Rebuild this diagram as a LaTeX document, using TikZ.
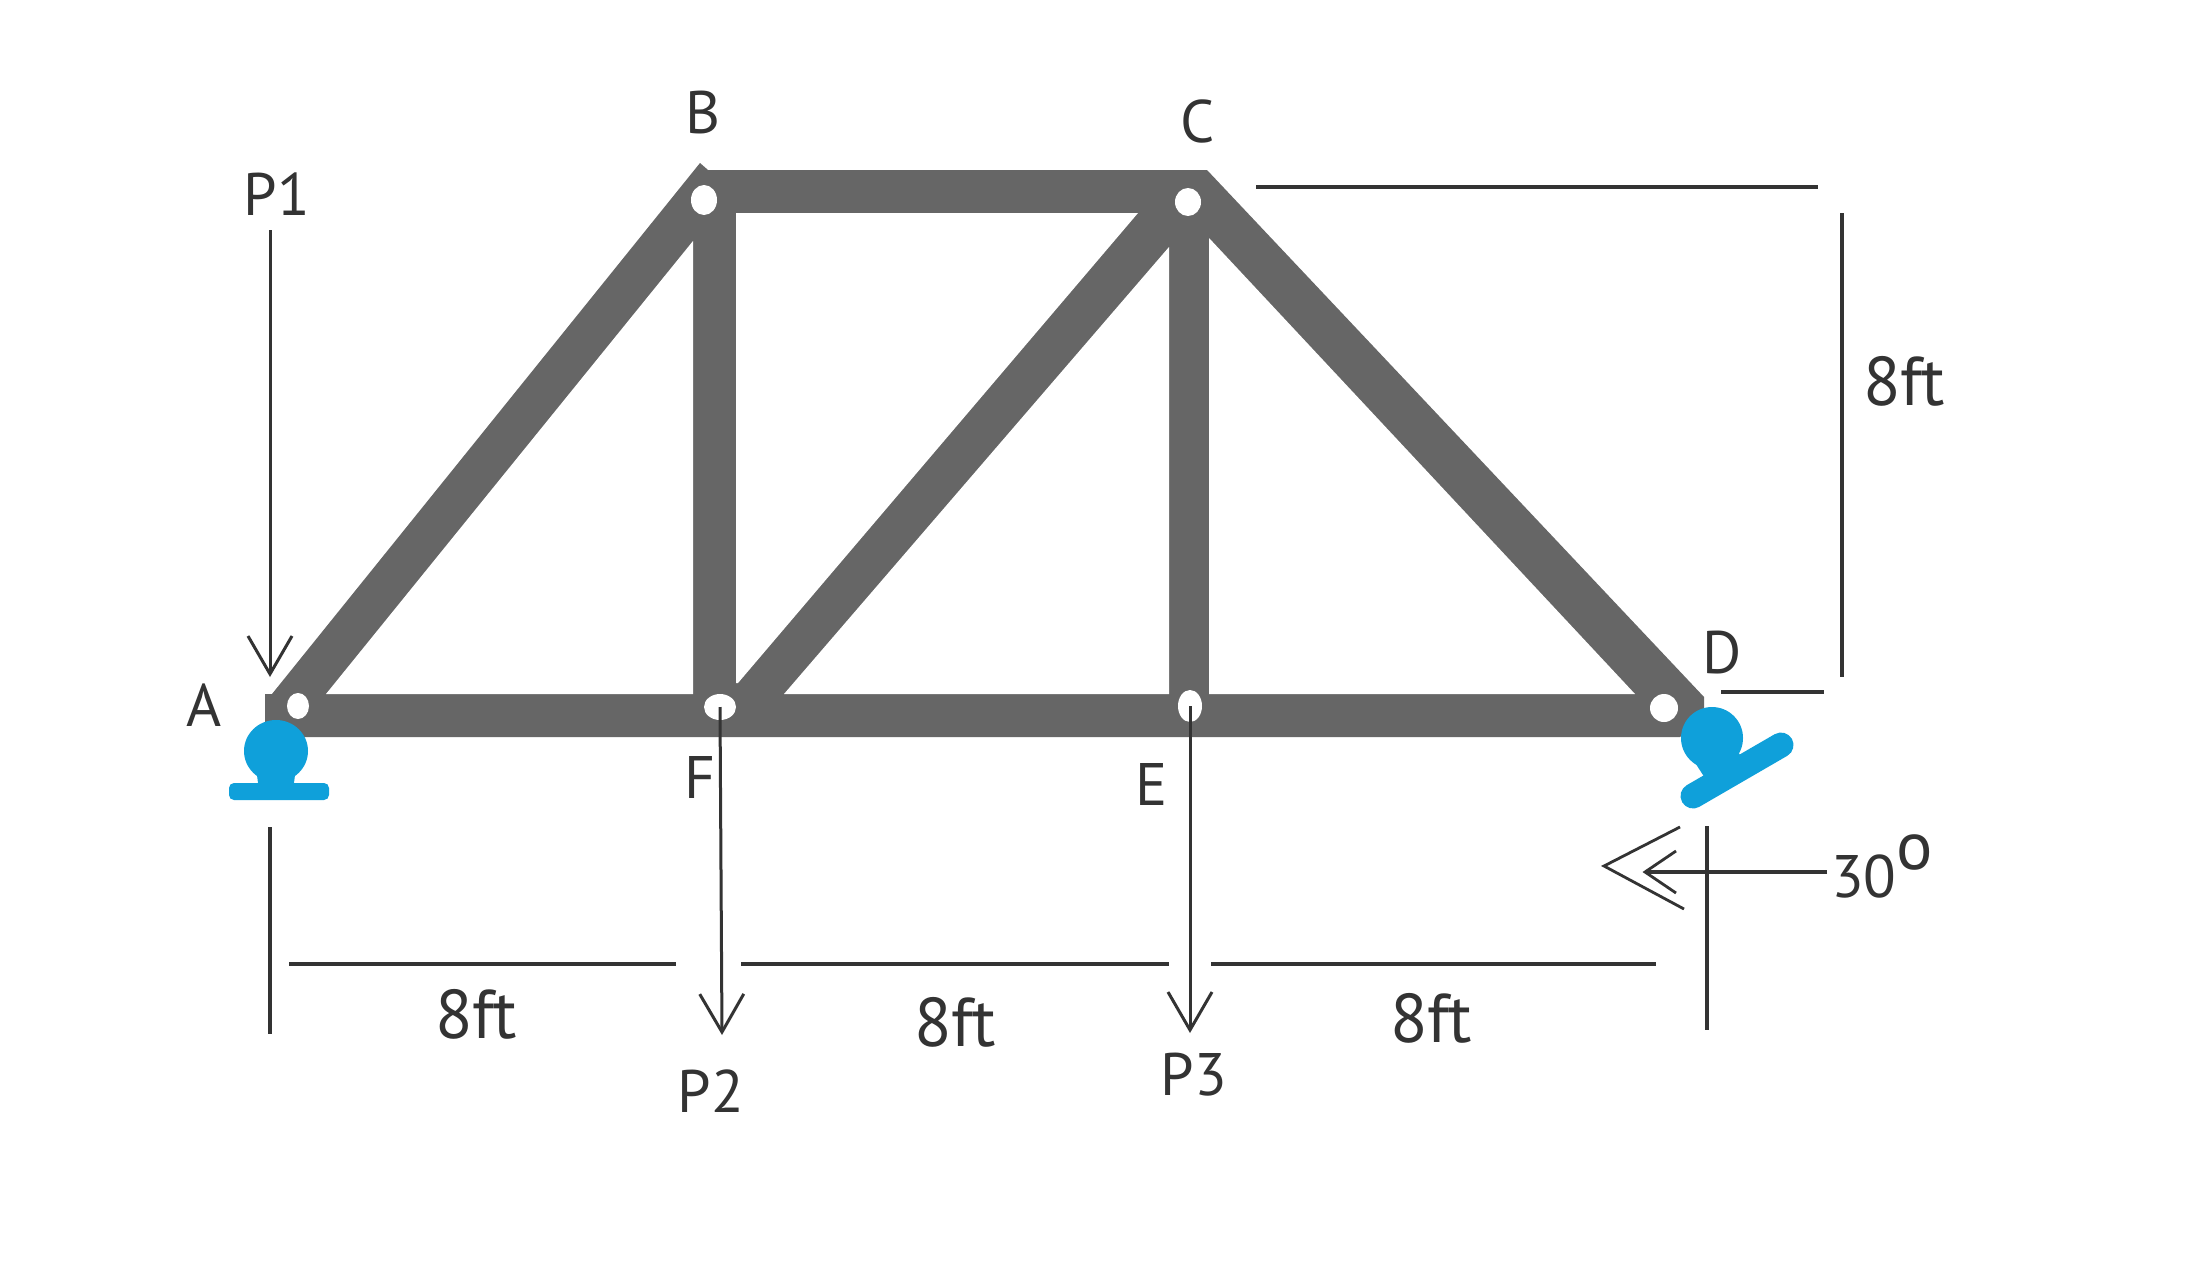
\documentclass[tikz,border=0pt]{standalone}
\usepackage{fontspec}
\setmainfont[Numbers=Lining]{PT Sans}
\usetikzlibrary{arrows.meta,shapes.geometric}
\definecolor{truss}{HTML}{666666}
\definecolor{support}{HTML}{0FA0DA}
\definecolor{ink}{HTML}{333333}
\tikzset{
  member/.style={fill=truss,draw=none},
  pin/.style={ellipse,fill=white,draw=none,inner sep=0pt},
  sup/.style={fill=support,draw=none},
  lab/.style={anchor=base,text=ink,inner sep=0pt,font=\fontsize{60}{60}\selectfont},
  dimlab/.style={anchor=base,text=ink,inner sep=0pt,font=\fontsize{69}{69}\selectfont},
  dimline/.style={draw=ink,line width=3.2pt},
  load/.style={draw=ink,line width=3pt,-{Straight Barb[length=38pt,width=44pt,line width=3pt]}},
}
\begin{document}
\begin{tikzpicture}[x=1pt,y=-1pt]
\useasboundingbox (0,0) rectangle (2187,1263);
\fill[white] (0,0) rectangle (2187,1263);
% truss members
\fill[member] (265,737) -- (265,694) -- (272,694) -- (700,163) -- (708,170) -- (1207,170) -- (1704,697) -- (1704,720) -- (1680,737) -- cycle;
% openings
\fill[white] (326,694) -- (693,241) -- (693,694) -- cycle;
\fill[white] (736,213) -- (1138,213) -- (738,683) -- (736,683) -- cycle;
\fill[white] (784,694) -- (1169,247) -- (1169,694) -- cycle;
\fill[white] (1209,238) -- (1635,694) -- (1209,694) -- cycle;
% pins
\node[pin,minimum width=22pt,minimum height=26pt] (pa) at (298,706) {};
\node[pin,minimum width=26pt,minimum height=30pt] (pb) at (704,200) {};
\node[pin,minimum width=26pt,minimum height=28pt] (pc) at (1188,202) {};
\node[pin,minimum width=28pt,minimum height=28pt] (pd) at (1664,708) {};
\node[pin,minimum width=24pt,minimum height=32pt] (pe) at (1190,706) {};
\node[pin,minimum width=32pt,minimum height=26pt] (pf) at (720,707) {};
% support A
\fill[sup] (276,751) ellipse (32 and 31);
\fill[sup] (256,768) -- (296,768) -- (293,790) -- (259,790) -- cycle;
\fill[sup,rounded corners=5pt] (229,783) rectangle (329,800);
% support D
\fill[sup] (1712,738) circle (31);
\fill[sup] (1692,758) -- (1734,745) -- (1752,775) -- (1714,792) -- cycle;
\draw[support,line width=25pt,line cap=round] (1693,796) -- (1781,745);
% labels
\node[lab] (la) at (204,726) {A};
\node[lab] (lb) at (703,133) {B};
\node[lab] (lc) at (1198,142) {C};
\node[lab] (ld) at (1722,673) {D};
\node[lab] (le) at (1152,805) {E};
\node[lab] (lf) at (700,798) {F};
\node[lab] (p1) at (277,215) {P1};
\node[lab] (p2) at (711,1112) {P2};
\node[lab] (p3) at (1194,1095) {P3};
\node[dimlab] (d1) at (476,1038) {8ft};
\node[dimlab] (d2) at (955,1046) {8ft};
\node[dimlab] (d3) at (1431,1042) {8ft};
\node[dimlab] (d4) at (1904,405) {8ft};
\node[lab,anchor=base west] (ang) at (1831,897) {30\raisebox{28pt}{\fontsize{68}{68}\selectfont o}};
% loads
\coordinate (p1s) at (270,230);
\coordinate (p1e) at (270,677);
\coordinate (p2e) at (722,1035);
\coordinate (p3e) at (1190,1033);
\draw[load] (p1s) -- (p1e);
\draw[load] (pf.center) -- (p2e);
\draw[load] (pe.center) -- (p3e);
% extension and dimension lines
\coordinate (e1a) at (270,827);
\coordinate (e1b) at (270,1034);
\draw[dimline] (e1a) -- (e1b);
\coordinate (e2a) at (1707,826);
\coordinate (e2b) at (1707,1030);
\draw[dimline] (e2a) -- (e2b);
\coordinate (h1a) at (289,964);
\coordinate (h1b) at (676,964);
\draw[dimline] (h1a) -- (h1b);
\coordinate (h2a) at (741,964);
\coordinate (h2b) at (1169,964);
\draw[dimline] (h2a) -- (h2b);
\coordinate (h3a) at (1211,964);
\coordinate (h3b) at (1656,964);
\draw[dimline] (h3a) -- (h3b);
\coordinate (ta) at (1256,187);
\coordinate (tb) at (1818,187);
\draw[dimline] (ta) -- (tb);
\coordinate (va) at (1842,213);
\coordinate (vb) at (1842,677);
\draw[dimline] (va) -- (vb);
\coordinate (da) at (1721,692);
\coordinate (db) at (1824,692);
\draw[dimline] (da) -- (db);
% angle arrow
\coordinate (s1) at (1827,872);
\coordinate (s2) at (1645,872);
\coordinate (s3) at (1676,851);
\coordinate (s4) at (1676,893);
\draw[dimline] (s1) -- (s2);
\draw[draw=ink,line width=2.8pt] (s3) -- (s2) -- (s4);
\coordinate (b1) at (1680,827);
\coordinate (b2) at (1604,866);
\coordinate (b3) at (1684,909);
\draw[draw=ink,line width=2.8pt] (b1) -- (b2) -- (b3);
\end{tikzpicture}
\end{document}
